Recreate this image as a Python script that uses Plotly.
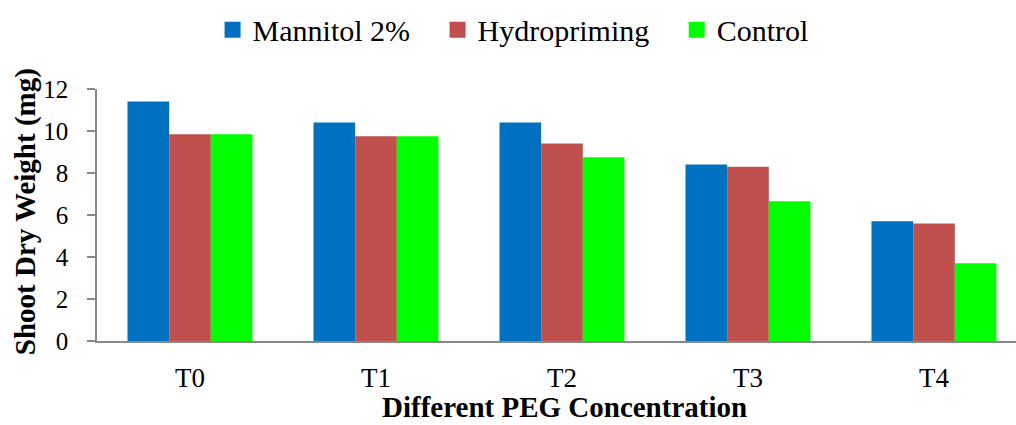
import plotly.graph_objects as go

categories = ["T0", "T1", "T2", "T3", "T4"]
series_names = ["Mannitol 2%", "Hydropriming", "Control"]
mannitol = [11.4, 10.4, 10.4, 8.4, 5.7]
hydropriming = [9.85, 9.75, 9.4, 8.3, 5.6]
control = [9.85, 9.75, 8.75, 6.65, 3.7]
colors = ["#0070C0", "#C0504D", "#00FF00"]
y_ticks = [0, 2, 4, 6, 8, 10, 12]

pad = "\u00a0\u00a0\u00a0"
legend_labels = [series_names[0] + pad, series_names[1] + pad, series_names[2]]

fig = go.Figure()
for name, vals, col in zip(series_names, [mannitol, hydropriming, control], colors):
    fig.add_trace(go.Bar(x=categories, y=vals, name=name, marker_color=col,
                         marker_line_width=0, showlegend=False))
for name, col in zip(legend_labels, colors):
    fig.add_trace(go.Scatter(x=[None], y=[None], mode="markers", name=name,
                             marker=dict(symbol="square", size=17, color=col)))

fig.update_layout(
    width=1016, height=425,
    margin=dict(l=97, r=0, t=89, b=84),
    plot_bgcolor="white", paper_bgcolor="white",
    barmode="group", bargap=0.328, bargroupgap=0,
    showlegend=True,
    legend=dict(orientation="h", xref="container", yref="container",
                x=0.505, xanchor="center", y=0.93, yanchor="middle",
                font=dict(family="Liberation Serif", size=30, color="black"),
                itemsizing="trace"),
    xaxis=dict(type="category", range=[-0.5, 4.441], showline=True,
               linecolor="#888888", linewidth=2, ticks="outside", ticklen=12,
               tickcolor="rgba(0,0,0,0)",
               tickfont=dict(family="Liberation Serif", size=27, color="black"),
               showgrid=False, zeroline=False),
    yaxis=dict(range=[0, 12], tickvals=y_ticks, showline=True,
               linecolor="#888888", linewidth=1.5, ticks="outside", ticklen=8,
               tickcolor="#888888", tickwidth=1.5, ticklabelstandoff=14,
               tickfont=dict(family="Liberation Serif", size=25, color="black"),
               showgrid=False, zeroline=False),
    annotations=[
        dict(text="<b>Different PEG Concentration</b>", xref="paper", yref="paper",
             x=0.509, y=-0.3333, xanchor="center", yanchor="bottom", showarrow=False,
             font=dict(family="Liberation Serif", size=29, color="black")),
        dict(text="<b>Shoot Dry Weight (mg)</b>", xref="paper", yref="paper",
             x=-0.0784, y=0.515, xanchor="center", yanchor="middle", showarrow=False,
             textangle=-90,
             font=dict(family="Liberation Serif", size=29, color="black")),
    ],
)

fig.write_html("out.html")
